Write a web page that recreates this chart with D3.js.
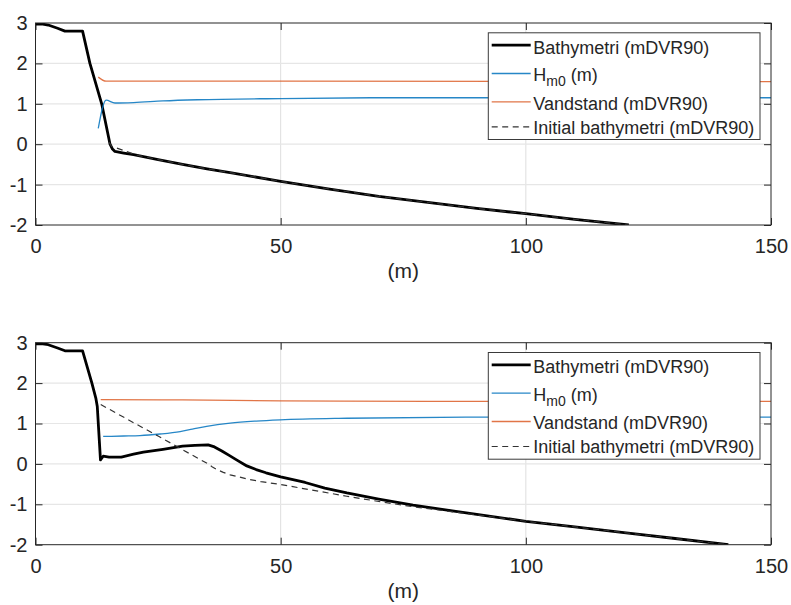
<!DOCTYPE html>
<html>
<head>
<meta charset="utf-8">
<script src="https://cdn.jsdelivr.net/npm/d3@7"></script>
<style>
  html, body { margin: 0; padding: 0; background: #fff; }
  svg { display: block; font-family: "Liberation Sans", Arial, Helvetica, sans-serif; }
</style>
</head>
<body>
<svg id="chart" width="791" height="605"></svg>
<script>
// ---- data -------------------------------------------------------------
const xTicks = [0, 50, 100, 150];
const yTicks = [-2, -1, 0, 1, 2, 3];
const xLabel = "(m)";
const legendLabels = ["Bathymetri (mDVR90)", "H|m0| (m)", "Vandstand (mDVR90)", "Initial bathymetri (mDVR90)"];

// upper profile
const bathyTop = [[0,2.97],[1.5,2.97],[2.6,2.95],[4.5,2.87],[6,2.8],[9.6,2.8],[11.1,2.0],[13.5,1.0],[15.2,0.0],[15.7,-0.12],[16.2,-0.18],
  [18,-0.22],[20,-0.26],[25,-0.38],[30,-0.50],[35,-0.61],[40,-0.71],[50,-0.92],[60,-1.11],[70,-1.29],[80,-1.44],
  [90,-1.59],[100,-1.72],[110,-1.86],[121,-2.0]];
const hm0Top = [[12.8,0.39],[14.4,1.09],[16.2,1.02],[20,1.03],[26,1.07],[33,1.10],[50,1.13],[70,1.15],[100,1.15],[150,1.15]];
const wlTop = [[12.8,1.66],[14.4,1.56],[50,1.56],[150,1.55]];
const initTop = [[15.0,0.05],[15.5,-0.05],[20.6,-0.27],[25,-0.38],[30,-0.50],[35,-0.61],[40,-0.71],[50,-0.92],[60,-1.11],
  [70,-1.29],[80,-1.44],[90,-1.59],[100,-1.72],[110,-1.86],[121,-2.0]];

// lower profile
const bathyBot = [[0,2.97],[1.5,2.97],[2.6,2.95],[4.5,2.87],[6,2.8],[9.6,2.8],[11.5,2.0],[12.3,1.63],[12.6,1.42],[13.25,0.1],[13.8,0.19],
  [15,0.17],[17.5,0.17],[20,0.24],[22,0.29],[26,0.36],[30,0.44],[32.5,0.46],[35.2,0.47],[36.5,0.42],[38,0.32],
  [39.5,0.21],[41,0.10],[43.1,-0.05],[45,-0.14],[47,-0.22],[50,-0.32],[55,-0.46],[59,-0.60],[63.5,-0.72],
  [70,-0.87],[77,-1.02],[85,-1.16],[90,-1.25],[100,-1.42],[110,-1.56],[120,-1.70],[130,-1.84],[141.3,-2.0]];
const hm0Bot = [[13.8,0.68],[18,0.69],[21.3,0.70],[25.4,0.74],[29.5,0.80],[32,0.86],[34.9,0.93],[39.7,1.01],
  [45,1.06],[49.9,1.09],[63.5,1.13],[90.7,1.16],[150,1.16]];
const wlBot = [[13.3,1.59],[30,1.585],[50,1.56],[80,1.55],[150,1.55]];
const initBot = [[13.3,1.47],[20,1.02],[25,0.69],[30,0.35],[34.9,0.02],[36,-0.07],[37,-0.14],[38.3,-0.21],[39.7,-0.27],
  [41.5,-0.32],[43,-0.37],[46,-0.44],[50,-0.51],[56,-0.64],[63.5,-0.80],[70,-0.93],[77,-1.06],[88.6,-1.24],[95,-1.34],
  [100,-1.42],[110,-1.56],[120,-1.70],[130,-1.84],[141.3,-2.0]];

// ---- layout -----------------------------------------------------------
const svg = d3.select("#chart");
const left = 35.5, right = 771;
const plotH = 202;
const axisColor = "#262626";
const colors = { bathy: "#000000", hm0: "#0072BD", wl: "#D95319", init: "#333333" };
const tickFmt = d => String(d);

const x = d3.scaleLinear().domain([0, 150]).range([left, right]);

const panels = [
  { top: 23, series: [bathyTop, hm0Top, wlTop, initTop] },
  { top: 342.7, series: [bathyBot, hm0Bot, wlBot, initBot] }
];

panels.forEach((p, i) => {
  const y = d3.scaleLinear().domain([-2, 3]).range([p.top + plotH, p.top]);
  const g = svg.append("g");
  const clipId = "clip" + i;
  svg.append("clipPath").attr("id", clipId)
    .append("rect").attr("x", left).attr("y", p.top).attr("width", right - left).attr("height", plotH);

  // grid
  g.append("g").selectAll("line").data(xTicks.slice(1, -1)).join("line")
    .attr("x1", d => x(d)).attr("x2", d => x(d)).attr("y1", p.top).attr("y2", p.top + plotH)
    .attr("stroke", "#dedede").attr("stroke-width", 1);
  g.append("g").selectAll("line").data(yTicks.slice(1, -1)).join("line")
    .attr("y1", d => y(d)).attr("y2", d => y(d)).attr("x1", left).attr("x2", right)
    .attr("stroke", "#e6e6e6").attr("stroke-width", 1.2);

  // axes with inward ticks
  const tick = 7;
  const axB = g.append("g").attr("transform", `translate(0,${p.top + plotH})`)
    .call(d3.axisBottom(x).tickValues(xTicks).tickFormat(tickFmt).tickSizeInner(-tick).tickSizeOuter(0).tickPadding(14));
  const axT = g.append("g").attr("transform", `translate(0,${p.top})`)
    .call(d3.axisTop(x).tickValues(xTicks).tickSizeInner(-tick).tickSizeOuter(0).tickFormat(""));
  const axL = g.append("g").attr("transform", `translate(${left},0)`)
    .call(d3.axisLeft(y).tickValues(yTicks).tickFormat(tickFmt).tickSizeInner(-tick).tickSizeOuter(0).tickPadding(8));
  const axR = g.append("g").attr("transform", `translate(${right},0)`)
    .call(d3.axisRight(y).tickValues(yTicks).tickSizeInner(-tick).tickSizeOuter(0).tickFormat(""));
  [axB, axT, axL, axR].forEach(a => {
    a.select(".domain").remove();
    a.selectAll(".tick line").attr("stroke", axisColor);
    a.selectAll("text").attr("fill", axisColor).style("font-size", "20px")
      .style("font-family", '"Liberation Sans", Arial, sans-serif');
  });

  // data lines: profiles piecewise linear, hydraulics smoothed
  const profileLine = d3.line().x(d => x(d[0])).y(d => y(d[1]));
  const smoothLine = d3.line().x(d => x(d[0])).y(d => y(d[1])).curve(d3.curveMonotoneX);
  const lines = g.append("g").attr("clip-path", `url(#${clipId})`);
  const [bathy, hm0, wl, init] = p.series;
  lines.append("path").datum(bathy).attr("d", profileLine).attr("fill", "none")
    .attr("stroke", colors.bathy).attr("stroke-width", 2.8).attr("stroke-linejoin", "round");
  lines.append("path").datum(hm0).attr("d", smoothLine).attr("fill", "none")
    .attr("stroke", colors.hm0).attr("stroke-width", 1.3).attr("stroke-opacity", 0.85);
  lines.append("path").datum(wl).attr("d", smoothLine).attr("fill", "none")
    .attr("stroke", colors.wl).attr("stroke-width", 1.3).attr("stroke-opacity", 0.8);
  lines.append("path").datum(init).attr("d", profileLine).attr("fill", "none")
    .attr("stroke", colors.init).attr("stroke-width", 1.2).attr("stroke-dasharray", "6,4.5");

  // box
  g.append("rect").attr("x", left).attr("y", p.top).attr("width", right - left).attr("height", plotH)
    .attr("fill", "none").attr("stroke", axisColor).attr("stroke-width", 1);

  // x label
  g.append("text").attr("x", (left + right) / 2).attr("y", p.top + 255).attr("text-anchor", "middle")
    .attr("fill", axisColor).style("font-size", "21px").text(xLabel);

  // legend
  const lgX = 488.3, lgY = p.top + 9.8, lgW = 271.7, lgH = 106.7;
  const lg = g.append("g");
  lg.append("rect").attr("x", lgX).attr("y", lgY).attr("width", lgW).attr("height", lgH)
    .attr("fill", "#fff").attr("stroke", "#3a3a3a").attr("stroke-width", 1);
  const rowLine = [12.3, 40.7, 69, 94];
  const rowBase = [20.7, 48.5, 76.7, 100.7];
  const styles = [
    { c: colors.bathy, w: 2.8, o: 1, dash: null },
    { c: colors.hm0, w: 1.3, o: 0.85, dash: null },
    { c: colors.wl, w: 1.3, o: 0.8, dash: null },
    { c: colors.init, w: 1.2, o: 1, dash: "6,4.5" }
  ];
  legendLabels.forEach((lab, k) => {
    const s = styles[k];
    lg.append("line").attr("x1", lgX + 3.4).attr("x2", lgX + 42.4)
      .attr("y1", lgY + rowLine[k]).attr("y2", lgY + rowLine[k])
      .attr("stroke", s.c).attr("stroke-width", s.w).attr("stroke-opacity", s.o)
      .attr("stroke-dasharray", s.dash);
    const t = lg.append("text").attr("x", lgX + 45).attr("y", lgY + rowBase[k])
      .attr("fill", axisColor).style("font-size", "18px");
    const parts = lab.split("|");
    if (parts.length === 3) {
      t.append("tspan").text(parts[0]);
      t.append("tspan").attr("dy", 5).style("font-size", "14px").text(parts[1]);
      t.append("tspan").attr("dy", -5).text(parts[2]);
    } else {
      t.text(lab);
    }
  });
});
</script>
</body>
</html>
